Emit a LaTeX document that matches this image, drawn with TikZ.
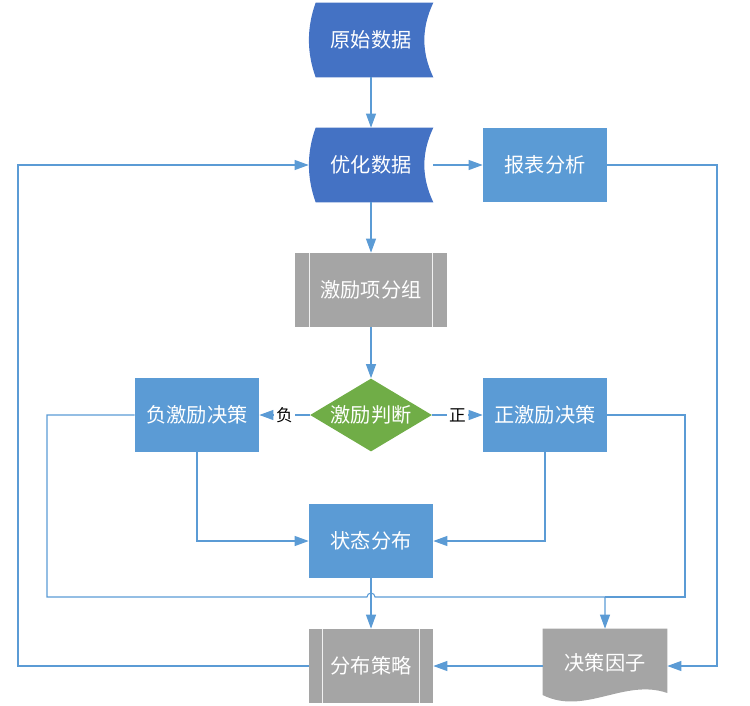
\documentclass[tikz,border=0pt]{standalone}
\usepackage{fontspec}
\setmainfont{Noto Sans CJK SC}
\usetikzlibrary{positioning, arrows.meta, shapes.geometric, calc, backgrounds}

\definecolor{darkblue}{HTML}{4472C4}
\definecolor{boxblue}{HTML}{5B9BD5}
\definecolor{boxgray}{HTML}{A5A5A5}
\definecolor{boxgreen}{HTML}{70AD47}
\definecolor{linkblue}{HTML}{5B9BD5}

\begin{document}
\begin{tikzpicture}[x=0.02cm, y=-0.02cm,
		box/.style={rectangle, minimum width=2.48cm, minimum height=1.48cm, inner sep=0pt, text=white, font=\fontsize{11.5pt}{14pt}\selectfont},
		process/.style={box, fill=boxblue},
		decision/.style={diamond, aspect=1.67, minimum width=2.44cm, minimum height=1.46cm, inner sep=0pt, fill=boxgreen, text=white, font=\fontsize{11.5pt}{14pt}\selectfont},
		link/.style={draw=linkblue, line width=0.6pt, -{Triangle[length=0.28cm, width=0.2cm]}},
		plain/.style={draw=linkblue, line width=0.6pt},
		tag/.style={fill=white, inner sep=1pt, font=\fontsize{9.5pt}{11pt}\selectfont}
	]

	% Fix the size of the picture
	\useasboundingbox (0,0) rectangle (750,706);

	% Place the nodes
	\node[box] (raw) at (371,40) {原始数据};
	\node[box] (opt) at (371,165) {优化数据};
	\node[process] (rep) at (545,165) {报表分析};
	\node[box, minimum width=3.04cm] (grp) at (371,290) {激励项分组};
	\node[decision] (judge) at (371,415) {激励判断};
	\node[process] (neg) at (197,415) {负激励决策};
	\node[process] (pos) at (545,415) {正激励决策};
	\node[process] (state) at (371,541) {状态分布};
	\node[box] (strat) at (371,666) {分布策略};
	\node[box] (dec) at (605,666) {\raisebox{0.16cm}{决策因子}};
	\coordinate (merge) at (605,597);

	% Shapes behind the texts
	\begin{pgfonlayer}{background}
		% stored data
		\foreach \n in {raw, opt}{
			\fill[darkblue] ($(\n.north west)+(7,0)$) -- (\n.north east)
				.. controls +(-12,25) and +(-12,-25) .. (\n.south east)
				-- ($(\n.south west)+(7,0)$)
				.. controls +(-9,-25) and +(-9,25) .. ($(\n.north west)+(7,0)$) -- cycle;
		}
		% predefined process
		\foreach \n/\d in {grp/15, strat/14}{
			\fill[boxgray] (\n.north west) rectangle (\n.south east);
			\draw[white!85!boxgray, line width=0.8pt] ($(\n.north west)+(\d,0)$) -- ($(\n.south west)+(\d,0)$);
			\draw[white!85!boxgray, line width=0.8pt] ($(\n.north east)+(-\d,0)$) -- ($(\n.south east)+(-\d,0)$);
		}
		% document
		\fill[boxgray] (dec.north west) -- (dec.north east) -- ($(dec.east)+(0,27)$)
			.. controls +(-43,-15) and +(42,21) .. ($(dec.west)+(0,29)$) -- cycle;
	\end{pgfonlayer}

	% Connectors
	\draw[link] (raw.south) -- (opt.north);
	\draw[link] (opt.east) -- (rep.west);
	\draw[link] (opt.south) -- (grp.north);
	\draw[link] (grp.south) -- (judge.north);
	\draw[link] (judge.west) -- node[tag] {负} (neg.east);
	\draw[link] (judge.east) -- node[tag] {正} (pos.west);
	\draw[link] (neg.south) |- (state.west);
	\draw[link] (pos.south) |- (state.east);
	\draw[link] (state.south) -- (strat.north);
	\draw[link] (neg.west) -| (47,597) -- (367,597) arc[start angle=180, end angle=0, radius=0.08cm] -- (merge) -- (dec.north);
	\draw[plain] (pos.east) -| (685,597) -- (merge);
	\draw[link] (rep.east) -| (717,666) -- (dec.east);
	\draw[link] (dec.west) -- (strat.east);
	\draw[link] (strat.west) -| (18,165) -- (opt.west);

\end{tikzpicture}
\end{document}
